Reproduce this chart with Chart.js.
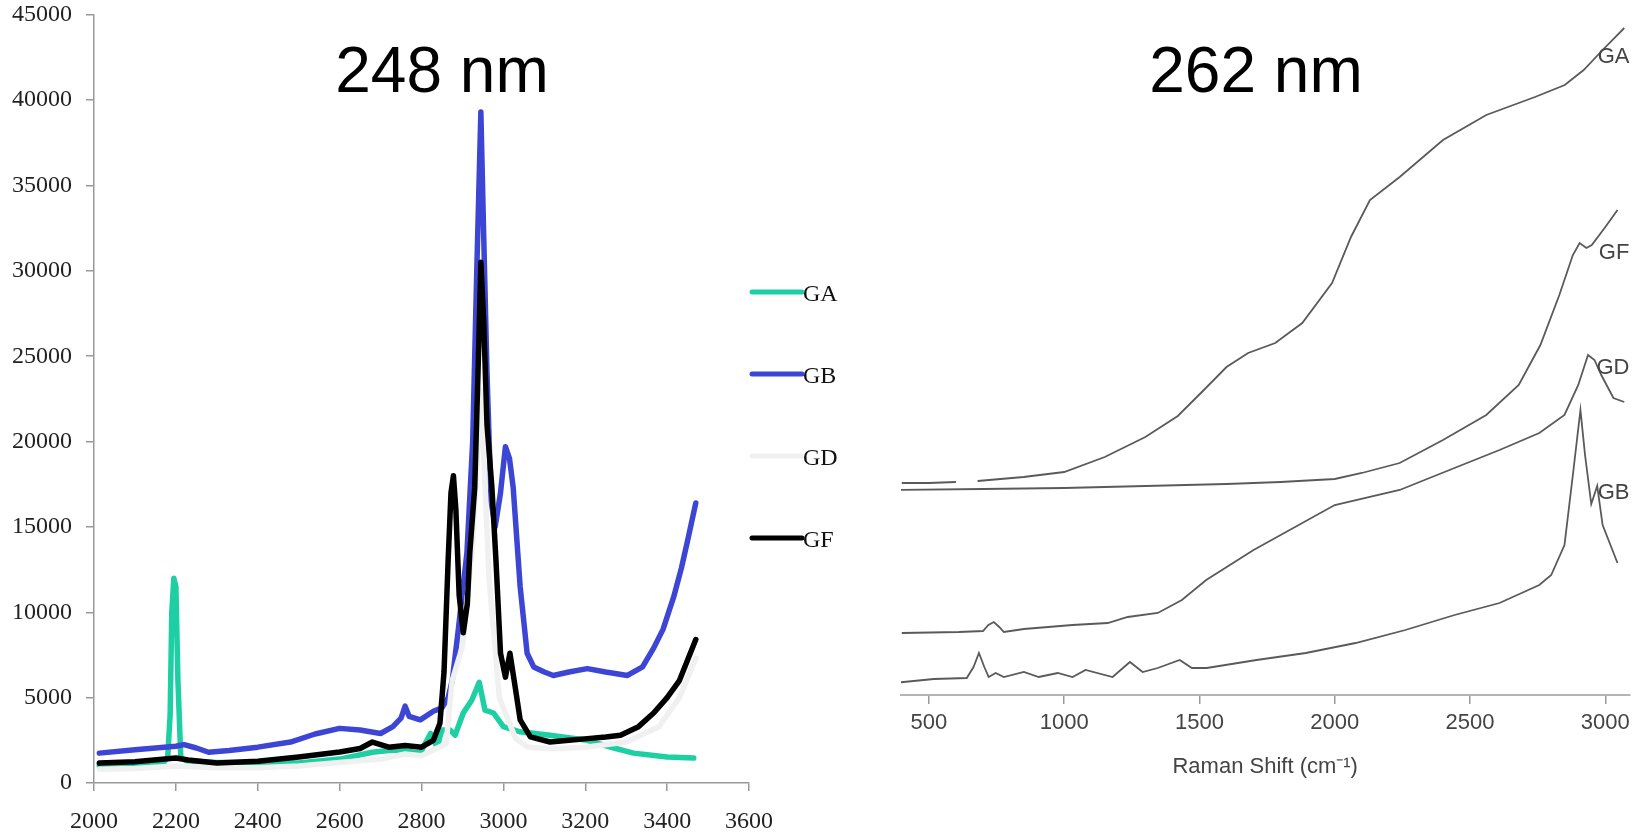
<!DOCTYPE html>
<html>
<head>
    <title>Raman spectra 248 nm / 262 nm</title>
    <script src="https://cdn.jsdelivr.net/npm/chart.js"></script>
    <style>
        body { margin: 0; background: #fff; }
        #wrap { position: relative; width: 1636px; height: 837px; overflow: hidden; }
        canvas { position: absolute; }
        #leftChart { left: 0; top: -13px; }
        #rightChart { left: 850px; top: 0; }
        .title {
            position: absolute;
            font-family: "Liberation Sans", Arial, sans-serif;
            font-size: 64px;
            line-height: 1;
            color: #000;
            transform: translate(-50%, -50%);
            white-space: nowrap;
        }
    </style>
</head>
<body>
<div id="wrap">
    <canvas id="leftChart" width="850" height="850"></canvas>
    <canvas id="rightChart" width="786" height="837"></canvas>
    <div class="title" style="left:442px; top:70px;">248 nm</div>
    <div class="title" style="left:1256px; top:70px;">262 nm</div>
</div>

<script>
    // ---- 248 nm panel (left) ----
    var gaX = [2013, 2100, 2170, 2180, 2186, 2190, 2195, 2200, 2205, 2212, 2225, 2300, 2400, 2500, 2600, 2680, 2720, 2747, 2797, 2822, 2838, 2850, 2870, 2882, 2902, 2923, 2941, 2955, 2976, 3000, 3041, 3114, 3205, 3270, 3318, 3400, 3465];
    var gaY = [1000, 1100, 1200, 1500, 4000, 10000, 12000, 11500, 6000, 1500, 1300, 1200, 1200, 1170, 1400, 1800, 1900, 1930, 1750, 2900, 2100, 3100, 3100, 2800, 4100, 4860, 5900, 4270, 4100, 3300, 3000, 2800, 2500, 2050, 1750, 1520, 1460];

    var gbX = [2013, 2100, 2150, 2200, 2220, 2250, 2280, 2330, 2400, 2480, 2540, 2600, 2650, 2700, 2730, 2750, 2760, 2770, 2797, 2829, 2850, 2865, 2875, 2890, 2911, 2925, 2935, 2945, 2952, 2960, 2970, 2980, 2993, 3005, 3015, 3024, 3041, 3058, 3074, 3100, 3122, 3160, 3205, 3250, 3303, 3340, 3367, 3390, 3416, 3435, 3450, 3470];
    var gbY = [1750, 1950, 2050, 2150, 2250, 2050, 1800, 1900, 2100, 2400, 2870, 3200, 3100, 2900, 3300, 3800, 4500, 3900, 3700, 4200, 4400, 5000, 6000, 9000, 13500, 20000, 30000, 39300, 32000, 24000, 16500, 15000, 17000, 19700, 19000, 17300, 11500, 7600, 6800, 6500, 6300, 6500, 6700, 6500, 6300, 6800, 7900, 9000, 10900, 12600, 14200, 16400];

    var gdX = [2013, 2100, 2200, 2300, 2400, 2500, 2600, 2700, 2760, 2800, 2860, 2875, 2900, 2925, 2945, 2965, 2990, 3010, 3030, 3060, 3120, 3200, 3300, 3380, 3430, 3470];
    var gdY = [800, 850, 1000, 900, 900, 1000, 1200, 1400, 1700, 1600, 2300, 6000, 8000, 14000, 23000, 12000, 5000, 3800, 2600, 2100, 2000, 2100, 2400, 3300, 5000, 7300];

    var gfX = [2013, 2100, 2200, 2230, 2300, 2400, 2500, 2600, 2650, 2680, 2700, 2720, 2760, 2800, 2829, 2845, 2855, 2865, 2872, 2878, 2884, 2892, 2902, 2912, 2918, 2930, 2938, 2945, 2952, 2960, 2972, 2982, 2993, 3005, 3016, 3029, 3041, 3066, 3114, 3160, 3205, 3250, 3286, 3330, 3367, 3400, 3430, 3450, 3470];
    var gfY = [1170, 1250, 1460, 1350, 1170, 1270, 1520, 1820, 2020, 2400, 2250, 2100, 2200, 2100, 2500, 3500, 6500, 13000, 17000, 18000, 16000, 11000, 8800, 10500, 13500, 17300, 24000, 30500, 27000, 21000, 17300, 13000, 7600, 6200, 7600, 5600, 3700, 2700, 2400, 2500, 2600, 2700, 2800, 3300, 4100, 5000, 6000, 7200, 8400];

    var leftNames = ['GA', 'GB', 'GD', 'GF'];
    var leftColors = ['#1dcfa3', '#3d46d4', '#f0f0f0', '#000000'];

    // ---- 262 nm panel (right), offset traces, arbitrary units ----
    var raX = [400, 500, 600, 601, 680, 850, 1000, 1150, 1300, 1420, 1520, 1600, 1680, 1780, 1880, 1990, 2060, 2130, 2240, 2400, 2560, 2740, 2850, 2920, 2990, 3070];
    var raY = [212, 212, 213, null, 214, 218, 223, 238, 258, 279, 306, 328, 342, 352, 372, 412, 458, 495, 518, 555, 580, 598, 610, 625, 645, 667];

    var rfX = [375, 700, 1000, 1300, 1600, 1800, 2000, 2100, 2240, 2400, 2560, 2680, 2760, 2830, 2880, 2905, 2930, 2950, 3000, 3045];
    var rfY = [205, 206, 207, 209, 211, 213, 216, 222, 232, 255, 280, 310, 350, 400, 440, 452, 447, 450, 468, 485];

    var rdX = [400, 611, 700, 720, 740, 760, 777, 851, 1031, 1161, 1235, 1346, 1435, 1525, 1700, 2000, 2240, 2424, 2609, 2756, 2849, 2900, 2936, 2960, 2985, 3030, 3070];
    var rdY = [62, 63, 64, 70, 73, 68, 63, 66, 70, 72, 78, 82, 95, 115, 145, 190, 205, 225, 245, 262, 280, 310, 340, 335, 320, 297, 293];

    var rbX = [370, 518, 640, 665, 685, 705, 721, 747, 777, 851, 906, 976, 1031, 1079, 1179, 1243, 1290, 1346, 1427, 1472, 1527, 1711, 1893, 2077, 2261, 2443, 2609, 2756, 2800, 2849, 2880, 2908, 2925, 2948, 2970, 2990, 3045];
    var rbY = [12, 16, 17, 28, 42, 28, 18, 22, 18, 23, 18, 22, 18, 25, 18, 33, 23, 27, 35, 27, 27, 35, 42, 52, 65, 80, 92, 110, 120, 150, 220, 285, 240, 191, 209, 170, 132];

    var rightNames = ['GA', 'GF', 'GD', 'GB'];
    var rightLabelY = [638, 442, 327, 202];
    var rightTicks = [500, 1000, 1500, 2000, 2500, 3000];

    function pts(xs, ys) {
        return xs.map(function(x, i) { return {x: x, y: ys[i]}; });
    }
    function plain(v) { return String(v); }

    var serif = '"Liberation Serif", "Times New Roman", serif';
    var sans = '"Liberation Sans", Arial, sans-serif';

    // legend drawn as in the original: long line sample + name
    var leftLegend = {
        id: 'leftLegend',
        afterDraw: function(chart) {
            var ctx = chart.ctx;
            var x0 = chart.chartArea.right + 3;
            ctx.save();
            ctx.font = '24px ' + serif;
            ctx.textBaseline = 'middle';
            ctx.fillStyle = '#111';
            leftNames.forEach(function(name, i) {
                var y = 305 + i * 82;   // canvas is shifted 13px up
                ctx.strokeStyle = leftColors[i];
                ctx.lineWidth = 5;
                ctx.lineCap = 'round';
                ctx.beginPath();
                ctx.moveTo(x0, y);
                ctx.lineTo(x0 + 50, y);
                ctx.stroke();
                ctx.fillText(name, x0 + 51, y + 3);
            });
            ctx.restore();
        }
    };

    var leftSets = [
        {label: 'GA', data: pts(gaX, gaY), order: 4},
        {label: 'GB', data: pts(gbX, gbY), order: 3},
        {label: 'GD', data: pts(gdX, gdY), order: 2},
        {label: 'GF', data: pts(gfX, gfY), order: 1}
    ];
    leftSets.forEach(function(d, i) {
        d.borderColor = leftColors[i];
        d.backgroundColor = leftColors[i];
        d.borderWidth = 5.5;
        d.pointRadius = 0;
        d.tension = 0;
        d.borderJoinStyle = 'round';
        d.borderCapStyle = 'round';
    });

    new Chart(document.getElementById('leftChart').getContext('2d'), {
        type: 'line',
        data: {datasets: leftSets},
        options: {
            responsive: false,
            animation: false,
            layout: {padding: {top: 0, right: 101, left: 0, bottom: 0}},
            plugins: {legend: {display: false}, tooltip: {enabled: false}},
            scales: {
                x: {
                    type: 'linear', min: 2000, max: 3600,
                    ticks: {stepSize: 200, color: '#222', font: {family: serif, size: 24}, padding: 16, callback: plain},
                    grid: {drawOnChartArea: false, color: '#999', tickLength: 8, lineWidth: 1.5},
                    border: {color: '#999', width: 1.5},
                    afterFit: function(s) { s.height = 54; }
                },
                y: {
                    min: 0, max: 45000,
                    ticks: {stepSize: 5000, color: '#222', font: {family: serif, size: 24, lineHeight: 1.15}, padding: 14, callback: plain},
                    grid: {drawOnChartArea: false, color: '#999', tickLength: 8, lineWidth: 1.5},
                    border: {color: '#999', width: 1.5},
                    afterFit: function(s) { s.width = 94; }
                }
            }
        },
        plugins: [leftLegend]
    });

    // names written at the right end of each trace
    var rightNamesPlugin = {
        id: 'rightNames',
        afterDraw: function(chart) {
            var ctx = chart.ctx;
            var ys = chart.scales.y;
            ctx.save();
            ctx.font = '22px ' + sans;
            ctx.fillStyle = '#444';
            ctx.textAlign = 'right';
            ctx.textBaseline = 'middle';
            rightNames.forEach(function(name, i) {
                ctx.fillText(name, chart.chartArea.right, ys.getPixelForValue(rightLabelY[i]));
            });
            ctx.restore();
        }
    };

    var rightSets = [
        {label: 'GA', data: pts(raX, raY)},
        {label: 'GF', data: pts(rfX, rfY)},
        {label: 'GD', data: pts(rdX, rdY)},
        {label: 'GB', data: pts(rbX, rbY)}
    ];
    rightSets.forEach(function(d) {
        d.borderColor = '#5a5a5a';
        d.borderWidth = 1.8;
        d.pointRadius = 0;
        d.tension = 0;
        d.spanGaps = false;
    });

    new Chart(document.getElementById('rightChart').getContext('2d'), {
        type: 'line',
        data: {datasets: rightSets},
        options: {
            responsive: false,
            animation: false,
            layout: {padding: {top: 20, right: 6, left: 51, bottom: 0}},
            plugins: {legend: {display: false}, tooltip: {enabled: false}},
            scales: {
                x: {
                    type: 'linear', min: 397, max: 3089,
                    afterBuildTicks: function(s) {
                        s.ticks = rightTicks.map(function(v) { return {value: v}; });
                    },
                    ticks: {color: '#444', font: {family: sans, size: 22}, padding: 6, callback: plain},
                    grid: {display: true, drawOnChartArea: false, drawTicks: true, color: '#999', tickLength: 9, lineWidth: 1.5, z: 1},
                    border: {display: true, color: '#b4b4b4', width: 2, z: 1},
                    title: {display: true, text: 'Raman Shift (cm\u207B\u00B9)', color: '#444',
                            font: {family: sans, size: 22}, padding: {top: 0, bottom: 57}},
                    afterFit: function(s) { s.height = 142; }
                },
                y: {
                    min: 0, max: 675,
                    ticks: {display: false},
                    grid: {display: false},
                    border: {display: false},
                    afterFit: function(s) { s.width = 0; }
                }
            }
        },
        plugins: [rightNamesPlugin]
    });
</script>
</body>
</html>
